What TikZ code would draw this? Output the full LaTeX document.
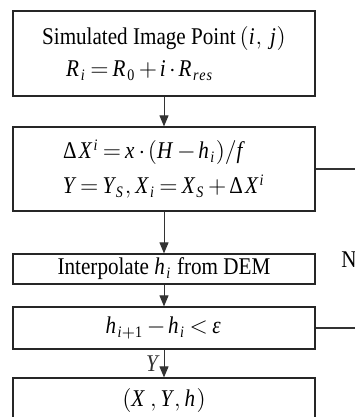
\documentclass[tikz,border=0pt]{standalone}
\usepackage{mathspec}
\setmainfont{Liberation Serif}[FakeStretch=0.88]
\setmathsfont(Digits,Latin,Greek)[FakeStretch=0.88]{Liberation Serif}
\usetikzlibrary{arrows.meta}
\thickmuskip=3mu plus 2mu
\medmuskip=2mu plus 1mu

\begin{document}
\begin{tikzpicture}[x=0.5pt, y=-0.5pt, font=\fontsize{12}{16}\selectfont,
  flowbox/.style={draw=black!85, line width=0.6pt, minimum width=151pt,
    inner xsep=2pt, inner ysep=0pt},
  flowarrow/.style={-{Triangle[length=5.5pt, width=4.5pt]}, black!80, line width=0.5pt},
  loopline/.style={black!80, line width=0.6pt}]

\useasboundingbox (0,0) rectangle (354,417);

% ---- boxes, top to bottom
\node[flowbox, minimum height=42.5pt, align=center] (point) at (164,53.5)
  {Simulated Image Point\,$(i,\, j)$\\ $R_i = R_0 + i\cdot R_{res}$\hspace*{24pt}};
\node[flowbox, minimum height=42pt, align=left] (shift) at (164,169)
  {$\Delta X^{i} = x\cdot(H-h_i)/f$\\[1.5pt] $Y = Y_S, X_i = X_S + \Delta X^{i}$};
\node[flowbox, minimum height=14pt, inner ysep=2pt] (interp) at (164,269)
  {Interpolate $h_i$ from DEM};
\node[flowbox, minimum height=21pt] (test) at (164,328) {$h_{i+1} - h_i < \epsilon$};
\node[flowbox, minimum height=22pt] (result) at (164,400) {$(X\,, Y, h)$};

% ---- main flow
\draw[flowarrow] (point) -- (shift);
\draw[flowarrow] (shift) -- (interp);
\draw[flowarrow] (interp) -- (test);
\draw[flowarrow] (test) -- node[left, inner sep=2pt] (yes) {$Y$} (result);

% ---- loop back on the right (runs off the page)
\coordinate (loopout) at (362,169);
\coordinate (loopback) at (362,328);
\draw[loopline] (shift.east) -- (loopout);
\draw[loopline] (test.east) -- (loopback);
\node[anchor=base west, inner sep=0] (no) at (341,267) {N};

\end{tikzpicture}
\end{document}
